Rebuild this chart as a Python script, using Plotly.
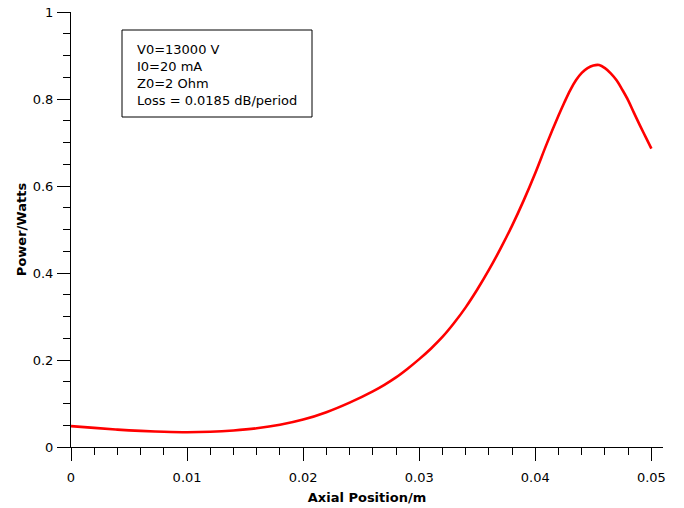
import plotly.graph_objects as go

axial_position = [0.000, 0.002, 0.004, 0.006, 0.008, 0.010, 0.012, 0.014, 0.016, 0.018,
                  0.020, 0.022, 0.024, 0.026, 0.027, 0.028, 0.029, 0.030, 0.031, 0.032,
                  0.033, 0.034, 0.035, 0.036, 0.037, 0.038, 0.039, 0.040, 0.041, 0.042,
                  0.0425, 0.043, 0.0435, 0.044, 0.0445, 0.045, 0.0455, 0.046, 0.0465,
                  0.047, 0.0475, 0.048, 0.0485, 0.049, 0.0495, 0.050]
power_watts = [0.048, 0.044, 0.040, 0.037, 0.035, 0.034, 0.035, 0.038, 0.043, 0.051,
               0.063, 0.080, 0.102, 0.128, 0.143, 0.160, 0.180, 0.202, 0.226, 0.253,
               0.285, 0.321, 0.362, 0.407, 0.456, 0.509, 0.567, 0.630, 0.698, 0.762,
               0.792, 0.820, 0.843, 0.860, 0.871, 0.877, 0.878, 0.871, 0.859,
               0.843, 0.821, 0.797, 0.768, 0.740, 0.713, 0.686]

x_ticks = [0, 0.01, 0.02, 0.03, 0.04, 0.05]
x_tick_labels = ["0", "0.01", "0.02", "0.03", "0.04", "0.05"]
y_ticks = [0, 0.2, 0.4, 0.6, 0.8, 1]
y_tick_labels = ["0", "0.2", "0.4", "0.6", "0.8", "1"]

info_lines = ["V0=13000 V", "I0=20 mA", "Z0=2 Ohm", "Loss = 0.0185 dB/period"]

FONT = "Verdana, DejaVu Sans, sans-serif"

fig = go.Figure()
fig.add_trace(go.Scatter(
    x=axial_position, y=power_watts, mode="lines",
    line=dict(color="#ff0000", width=2.6, shape="spline", smoothing=1.0),
    showlegend=False, hoverinfo="skip",
))

W, H = 684, 508
PLOT_L, PLOT_R, PLOT_T, PLOT_B = 71, 663, 12, 447   # plot area in page pixels
L = PLOT_L
T = PLOT_T
R = W - PLOT_R
B = H - PLOT_B

fig.update_layout(
    width=W, height=H,
    margin=dict(l=L, r=R, t=T, b=B, autoexpand=False),
    paper_bgcolor="white", plot_bgcolor="white",
    font=dict(family=FONT, size=13, color="black"),
    xaxis=dict(
        range=[0, 0.051], showgrid=False, zeroline=False, automargin=False,
        showline=True, linecolor="black", linewidth=1,
        tickmode="array", tickvals=x_ticks, ticktext=x_tick_labels,
        ticks="outside", ticklen=13, tickwidth=1, tickcolor="black",
        ticklabelstandoff=5, ticklabeloverflow="allow",
        minor=dict(ticks="outside", ticklen=7, tickwidth=1, tickcolor="black", dtick=0.002, tick0=0, showgrid=False),
        title=dict(text="<b>Axial Position/m</b>", font=dict(family=FONT, size=13), standoff=9),
        fixedrange=True,
    ),
    yaxis=dict(
        range=[0, 1], showgrid=False, zeroline=False, automargin=False,
        showline=True, linecolor="black", linewidth=1,
        tickmode="array", tickvals=y_ticks, ticktext=y_tick_labels,
        ticks="outside", ticklen=13, tickwidth=1, tickcolor="black",
        ticklabelstandoff=1, ticklabeloverflow="allow",
        minor=dict(ticks="outside", ticklen=7, tickwidth=1, tickcolor="black", dtick=0.05, tick0=0, showgrid=False),
        title=dict(text="<b>Power/Watts</b>", font=dict(family=FONT, size=13), standoff=3),
        fixedrange=True,
    ),
)

pw = PLOT_R - PLOT_L
ph = PLOT_B - PLOT_T

def px_x(p):
    return (p - PLOT_L) / pw

def px_y(p):
    return 1 - (p - PLOT_T) / ph

fig.add_shape(type="rect", xref="paper", yref="paper",
              x0=px_x(122), x1=px_x(312), y0=px_y(117), y1=px_y(30),
              line=dict(color="black", width=1), fillcolor="white")

fig.add_annotation(
    xref="paper", yref="paper", x=px_x(135), y=px_y(40),
    xanchor="left", yanchor="top", align="left", showarrow=False,
    text="<br>".join(info_lines),
    font=dict(family=FONT, size=13, color="black"),
)

# remove the default 8px page margin so the figure sits at the window's top-left
fig.write_html(
    "out.html",
    config={"displayModeBar": False, "staticPlot": True},
    post_script="document.body.style.margin='0';document.body.style.overflow='hidden';",
)
